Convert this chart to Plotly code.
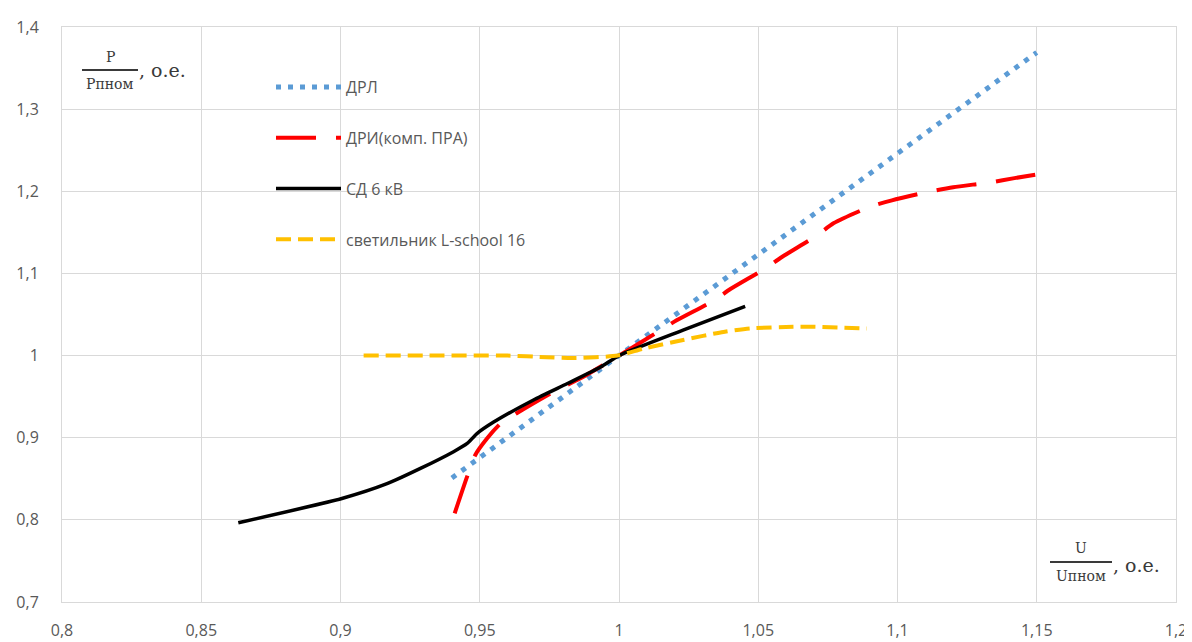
import plotly.graph_objects as go

# ДРЛ
drl_u = [0.94, 0.96, 0.98, 1.0, 1.05, 1.10, 1.15]
drl_p = [0.851, 0.900, 0.950, 1.0, 1.123, 1.247, 1.369]

# ДРИ (комп. ПРА)
dri_u = [0.941, 0.9454, 0.9484, 0.9526, 0.9574, 0.9634, 0.9766, 0.986, 1.0, 1.015, 1.0207, 1.034, 1.040,
         1.0525, 1.0585, 1.071, 1.077, 1.090, 1.098, 1.112, 1.120, 1.1336, 1.142, 1.151]
dri_p = [0.808, 0.852, 0.879, 0.899, 0.917, 0.930, 0.956, 0.972, 1.0, 1.031, 1.043, 1.067, 1.081,
         1.106, 1.120, 1.146, 1.161, 1.181, 1.189, 1.200, 1.205, 1.211, 1.216, 1.221]

# СД 6 кВ
sd_u = [0.8633, 0.9005, 0.9167, 0.9287, 0.9406, 0.9455, 0.949, 0.955, 0.9693, 0.9815, 0.9934, 1.0,
        1.023, 1.0453]
sd_p = [0.7965, 0.826, 0.844, 0.8626, 0.883, 0.893, 0.905, 0.919, 0.946, 0.966, 0.986, 1.0,
        1.031, 1.060]

# светильник L-school 16
ls_u = [0.9083, 0.93, 0.96, 0.974, 0.9836, 0.9995, 1.0088, 1.023, 1.0375, 1.047, 1.0625, 1.07, 1.089]
ls_p = [1.0, 1.0, 1.0, 0.998, 0.997, 1.0, 1.0085, 1.019, 1.0288, 1.033, 1.035, 1.035, 1.033]

x_ticks = [0.8, 0.85, 0.9, 0.95, 1.0, 1.05, 1.1, 1.15, 1.2]
y_ticks = [0.7, 0.8, 0.9, 1.0, 1.1, 1.2, 1.3, 1.4]

fig = go.Figure()
fig.add_trace(go.Scatter(x=drl_u, y=drl_p, mode="lines", name="ДРЛ", legendgroup="a",
                         line=dict(color="#5b9bd5", width=5, dash="5px,7px")))
fig.add_trace(go.Scatter(x=dri_u, y=dri_p, mode="lines", name="ДРИ(комп. ПРА)", legendgroup="b",
                         line=dict(color="#ff0000", width=4, dash="40px,20px", shape="spline", smoothing=0.6)))
fig.add_trace(go.Scatter(x=sd_u, y=sd_p, mode="lines", name="СД 6 кВ", legendgroup="c",
                         line=dict(color="#000000", width=3.5, shape="spline", smoothing=0.6)))
fig.add_trace(go.Scatter(x=ls_u, y=ls_p, mode="lines", name="светильник L-school 16", legendgroup="d",
                         line=dict(color="#ffc000", width=4, dash="15px,7px", shape="spline", smoothing=0.6)))

grid = "#d9d9d9"
tickfont = dict(family="Open Sans", size=16, color="#595959")

fig.update_xaxes(range=[0.8, 1.2], tickvals=x_ticks, showgrid=True, gridcolor=grid, gridwidth=1,
                 zeroline=False, showline=True, linecolor=grid, mirror=True, tickfont=tickfont,
                 ticks="outside", ticklen=14, tickcolor="rgba(0,0,0,0)", automargin=False)
fig.update_yaxes(range=[0.7, 1.4], tickvals=y_ticks, showgrid=True, gridcolor=grid, gridwidth=1,
                 zeroline=False, showline=True, linecolor=grid, mirror=True, tickfont=tickfont,
                 ticks="outside", ticklen=19, tickcolor="rgba(0,0,0,0)", automargin=False)

# page is drawn with an 8px body offset; work in screen pixels
OFF = 8
FW, FH = 1192 - OFF, 642 - OFF
L, R, T, B = 62, 1176, 27, 602
W, H = R - L, B - T
def px(x):
    return (x - L) / W
def py(y):
    return (B - y) / H

lab_color = "#3a3a3a"
serif = "DejaVu Serif"
annotations = [
    dict(x=px(110), y=py(57), text="P", font=dict(family=serif, size=14, color=lab_color)),
    dict(x=px(110), y=py(84), text="Pпном", font=dict(family=serif, size=14, color=lab_color)),
    dict(x=px(137), y=py(70), text=", о.е.", xanchor="left", font=dict(family=serif, size=19, color=lab_color)),
    dict(x=px(1081), y=py(548), text="U", font=dict(family=serif, size=14, color=lab_color)),
    dict(x=px(1081), y=py(576), text="Uпном", font=dict(family=serif, size=14, color=lab_color)),
    dict(x=px(1111), y=py(565), text=", о.е.", xanchor="left", font=dict(family=serif, size=19, color=lab_color)),
]
for a in annotations:
    a.update(xref="paper", yref="paper", showarrow=False, yanchor="middle")
    a.setdefault("xanchor", "center")

shapes = [
    dict(type="line", xref="paper", yref="paper", x0=px(82), x1=px(138), y0=py(70), y1=py(70),
         line=dict(color=lab_color, width=2)),
    dict(type="line", xref="paper", yref="paper", x0=px(1050), x1=px(1112), y0=py(562), y1=py(562),
         line=dict(color=lab_color, width=2)),
]

fig.update_layout(
    width=FW, height=FH,
    margin=dict(l=L - OFF, r=1192 - R, t=T - OFF, b=642 - B, autoexpand=False),
    paper_bgcolor="white", plot_bgcolor="white",
    separators=", ",
    showlegend=True,
    legend=dict(x=px(271), y=py(70), xanchor="left", yanchor="top", bgcolor="rgba(0,0,0,0)",
                font=dict(family="Open Sans", size=16, color="#595959"),
                itemwidth=65, tracegroupgap=27, traceorder="grouped"),
    annotations=annotations, shapes=shapes,
)

fig.write_html("out.html")
